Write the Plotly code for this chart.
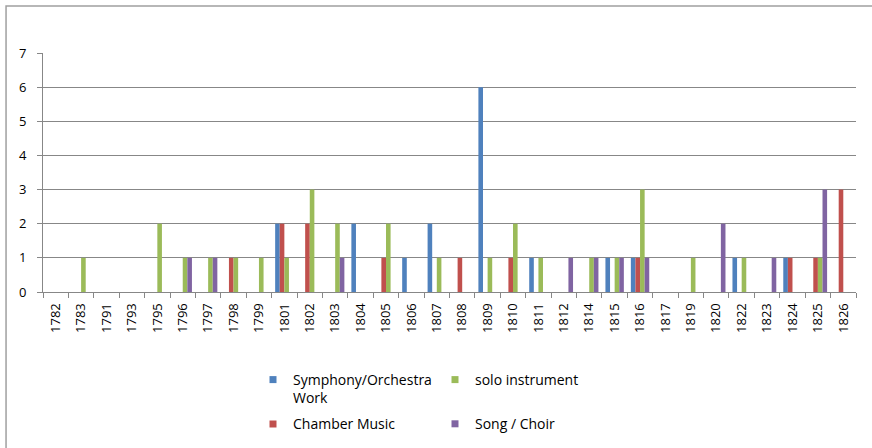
import plotly.graph_objects as go

# Works per year, by genre
years = ["1782", "1783", "1791", "1793", "1795", "1796", "1797", "1798", "1799",
         "1801", "1802", "1803", "1804", "1805", "1806", "1807", "1808", "1809",
         "1810", "1811", "1812", "1814", "1815", "1816", "1817", "1819", "1820",
         "1822", "1823", "1824", "1825", "1826"]

symphony = [0, 0, 0, 0, 0, 0, 0, 0, 0,
            2, 0, 0, 2, 0, 1, 2, 0, 6,
            0, 1, 0, 0, 1, 1, 0, 0, 0,
            1, 0, 1, 0, 0]
chamber = [0, 0, 0, 0, 0, 0, 0, 1, 0,
           2, 2, 0, 0, 1, 0, 0, 1, 0,
           1, 0, 0, 0, 0, 1, 0, 0, 0,
           0, 0, 1, 1, 3]
solo = [0, 1, 0, 0, 2, 1, 1, 1, 1,
        1, 3, 2, 0, 2, 0, 1, 0, 1,
        2, 1, 0, 1, 1, 3, 0, 1, 0,
        1, 0, 0, 1, 0]
song = [0, 0, 0, 0, 0, 1, 1, 0, 0,
        0, 0, 1, 0, 0, 0, 0, 0, 0,
        0, 0, 1, 1, 1, 1, 0, 0, 2,
        0, 1, 0, 3, 0]

series = [
    ("Symphony/Orchestra<br>Work", symphony, "#4F81BD", "legend", 1),
    ("Chamber Music", chamber, "#C0504D", "legend", 2),
    ("solo instrument", solo, "#9BBB59", "legend2", 1),
    ("Song / Choir", song, "#8064A2", "legend2", 2),
]

FONT = "Open Sans"
GRID = "#878787"

fig = go.Figure()
for name, vals, color, leg, rank in series:
    fig.add_trace(go.Bar(x=years, y=vals, marker=dict(color=color, line=dict(width=0)),
                         showlegend=False, name=name))
for name, vals, color, leg, rank in series:
    # small square keys for the legend
    fig.add_trace(go.Scatter(x=[None], y=[None], mode="markers", name=name,
                             marker=dict(symbol="square", size=7, color=color,
                                         line=dict(width=0)),
                             legend=leg, legendgroup=name, legendrank=rank,
                             showlegend=True))

W, H = 872, 448
L, R, T, B = 42.5, 15.5, 53, 156
pw, ph = W - L - R, H - T - B

def px_to_paper_x(px):
    return (px - L) / pw

def px_to_paper_y(py):
    return (H - B - py) / ph

fig.update_layout(
    width=W, height=H,
    margin=dict(l=L, r=R, t=T, b=B, autoexpand=False),
    paper_bgcolor="white", plot_bgcolor="white",
    font=dict(family=FONT, size=13, color="#000000"),
    barmode="group", bargap=0.275, bargroupgap=0,
    xaxis=dict(type="category", categoryorder="array", categoryarray=years,
               tickangle=-90, ticks="outside", ticklen=5, tickcolor=GRID,
               tickson="boundaries", showgrid=False, showline=True,
               linecolor=GRID, linewidth=1, ticklabelstandoff=5,
               tickfont=dict(size=13), fixedrange=True, automargin=False),
    yaxis=dict(range=[0, 7], dtick=1, tick0=0, ticks="outside", ticklen=5,
               tickcolor=GRID, showgrid=True, gridcolor=GRID, gridwidth=1,
               showline=True, linecolor=GRID, linewidth=1, zeroline=False,
               ticklabelstandoff=8, tickfont=dict(size=13), automargin=False),
    legend=dict(xref="container", yref="container", x=253 / W, y=1 - 364 / H,
                xanchor="left", yanchor="top", orientation="v",
                traceorder="grouped", tracegroupgap=5, valign="top",
                font=dict(size=14), bgcolor="rgba(0,0,0,0)", itemwidth=30),
    legend2=dict(xref="container", yref="container", x=435 / W, y=1 - 364 / H,
                 xanchor="left", yanchor="top", orientation="v",
                 traceorder="grouped", tracegroupgap=23, valign="top",
                 font=dict(size=14), bgcolor="rgba(0,0,0,0)", itemwidth=30),
    shapes=[dict(type="rect", xref="paper", yref="paper",
                 x0=px_to_paper_x(5.5), x1=px_to_paper_x(W + 10),
                 y0=px_to_paper_y(H + 10), y1=px_to_paper_y(6),
                 line=dict(color="#A0A0A0", width=1.5), layer="below")],
)

fig.write_html("out.html")
